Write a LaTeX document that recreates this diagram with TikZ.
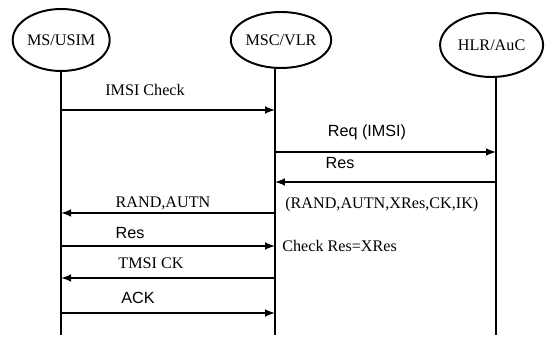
\documentclass[tikz,border=0pt]{standalone}
\usepackage{fontspec}
\setmainfont{Liberation Serif}
\newfontfamily\arialfont{Liberation Sans}
\usetikzlibrary{shapes.geometric}
\tikzset{
  entity/.style={draw, ellipse, line width=1.4pt, inner sep=0pt},
  msg/.style={line width=1.4pt, -latex},
  life/.style={line width=1.3pt}
}
\begin{document}
\begin{tikzpicture}[font=\fontsize{11.5}{13}\selectfont]
\useasboundingbox (0,0) rectangle (13.875,8.425);
% the three parties
\node [entity, minimum width=2.425cm, minimum height=1.55cm] (ms) at (1.53,7.425) {MS/USIM};
\node [entity, minimum width=2.45cm, minimum height=1.4cm] (msc) at (7.025,7.425) {MSC/VLR};
\node [entity, minimum width=2.575cm, minimum height=1.6cm] (hlr) at (12.29,7.3) {HLR/AuC};
% lifelines
\coordinate (msend) at (1.53,0.05);
\coordinate (mscend) at (6.875,0.05);
\coordinate (hlrend) at (12.4,0.05);
\draw [life] (ms) -- (msend);
\draw [life] (msc.south -| mscend) -- (mscend);
\draw [life] (hlr.south -| hlrend) -- (hlrend);
% message levels
\coordinate (y1) at (0,5.675);
\coordinate (y2) at (0,4.625);
\coordinate (y3) at (0,3.875);
\coordinate (y4) at (0,3.1);
\coordinate (y5) at (0,2.275);
\coordinate (y6) at (0,1.475);
\coordinate (y7) at (0,0.6);
\draw [msg] (msend |- y1) -- (mscend |- y1);
\draw [msg] (mscend |- y2) -- (hlrend |- y2);
\draw [msg] (hlrend |- y3) -- (mscend |- y3);
\draw [msg] (mscend |- y4) -- (msend |- y4);
\draw [msg] (msend |- y5) -- (mscend |- y5);
\draw [msg] (mscend |- y6) -- (msend |- y6);
\draw [msg] (msend |- y7) -- (mscend |- y7);
% labels
\node (imsi) at (3.625,6.175) {IMSI Check};
\node (req) at (9.175,5.125) {\arialfont Req (IMSI)};
\node (res1) at (8.5,4.35) {\arialfont Res};
\node [right, inner sep=0pt] (vec) at (7.125,3.3) {(RAND,AUTN,XRes,CK,IK)};
\node (rand) at (4.075,3.35) {RAND,AUTN};
\node (res2) at (3.25,2.6) {\arialfont Res};
\node [right, inner sep=0pt] (check) at (7.05,2.275) {Check Res=XRes};
\node (tmsi) at (3.775,1.85) {TMSI CK};
\node (ack) at (3.45,0.975) {\arialfont ACK};
\end{tikzpicture}
\end{document}
